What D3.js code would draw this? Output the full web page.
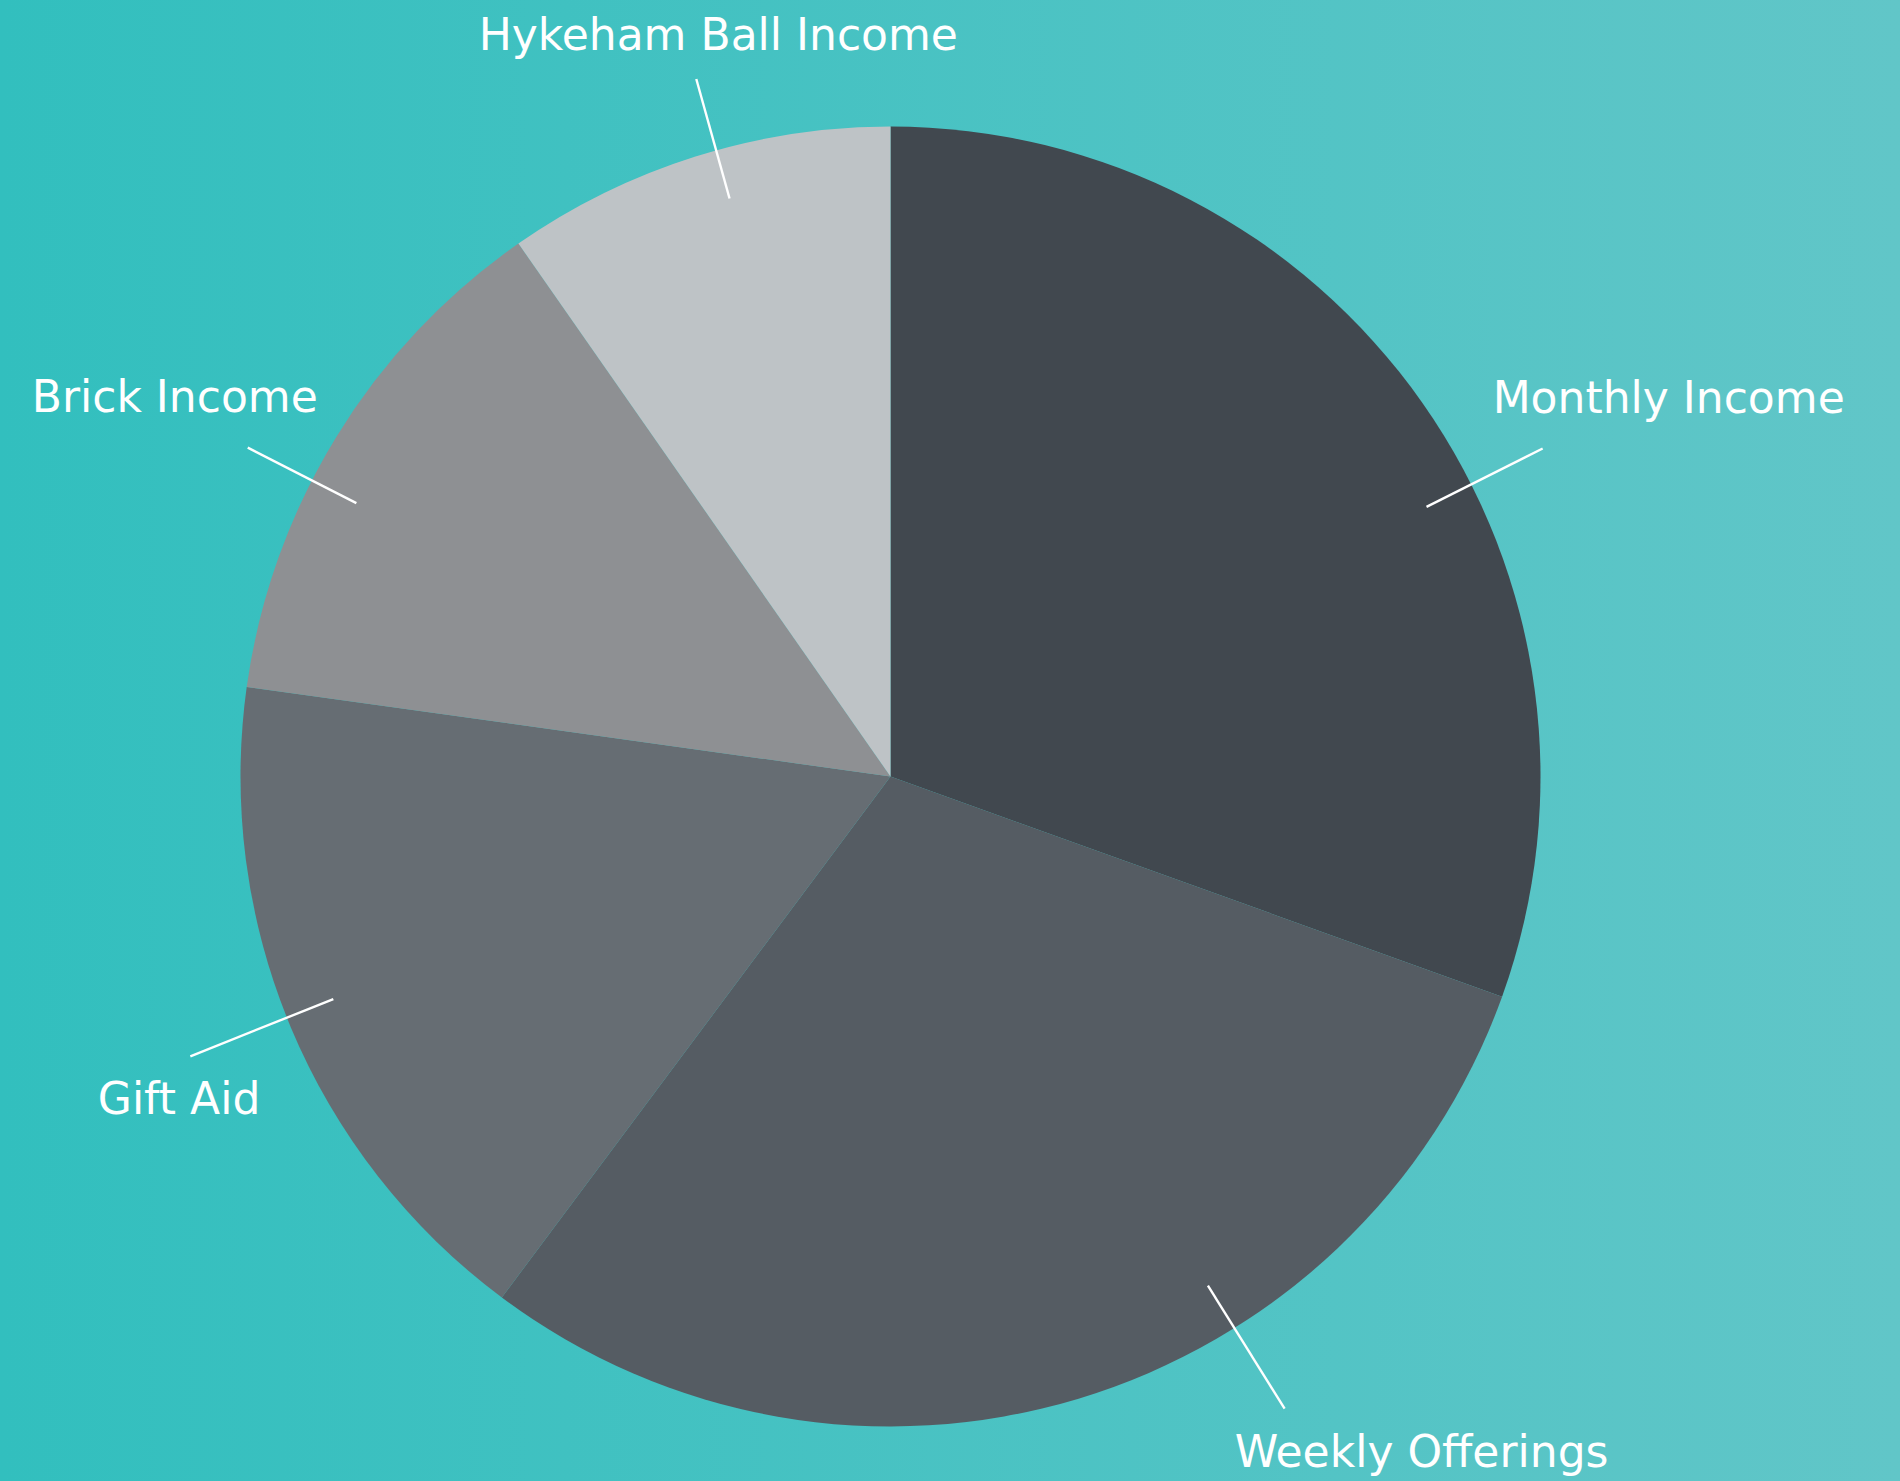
<!DOCTYPE html>
<html>
<head>
<meta charset="utf-8">
<script src="https://cdn.jsdelivr.net/npm/d3@7"></script>
<style>
  html, body { margin: 0; padding: 0; }
  svg { display: block; }
  .label { font-family: "DejaVu Sans", sans-serif; fill: #fff; }
</style>
</head>
<body>
<svg id="chart" width="1900" height="1481"></svg>
<script>
// income sources, clockwise from 12 o'clock (share of total, %)
let categories = ['Monthly Income', 'Weekly Offerings', 'Gift Aid', 'Brick Income', 'Hykeham Ball Income'];
let shares = [30.5, 29.7, 17.0, 13.1, 9.7];
let colours = ['#41484f', '#555c63', '#666d73', '#8e9093', '#bec3c6'];

// the leader lines in the original are hand placed, not on the slice middles:
// turn away from the middle (degrees) and how far out they reach (px)
let leaderTurn = [8.4, -15.2, 0.9, -4.4, 1.9];
let leaderReach = [730, 745, 754, 722, 724];

let width = 1900,
    height = 1481,
    cx = 890.5,
    cy = 776.5,
    radius = 650;

let svg = d3.select('#chart');

let grad = svg.append('defs').append('linearGradient')
    .attr('id', 'bg')
    .attr('x1', '0%').attr('x2', '100%')
    .attr('y1', '0%').attr('y2', '0%');
grad.append('stop').attr('offset', '0%').attr('stop-color', '#32bfbe');
grad.append('stop').attr('offset', '100%').attr('stop-color', '#61c6c8');

svg.append('rect')
    .attr('width', width)
    .attr('height', height)
    .attr('fill', 'url(#bg)');

let data = categories.map((name, i) => ({
    name: name, value: shares[i], colour: colours[i],
    turn: leaderTurn[i], reach: leaderReach[i]
}));

let pie = d3.pie().sort(null).value(d => d.value);
let arc = d3.arc().innerRadius(0).outerRadius(radius);
let arcs = pie(data);

let g = svg.append('g').attr('transform', `translate(${cx},${cy})`);

g.selectAll('path.slice')
    .data(arcs)
    .enter().append('path')
    .attr('class', 'slice')
    .attr('d', arc)
    .attr('fill', d => d.data.colour);

let deg = Math.PI / 180;
let polar = (a, r) => [r * Math.sin(a), -r * Math.cos(a)];
let leaderAngle = d => (d.startAngle + d.endAngle) / 2 + d.data.turn * deg;

g.selectAll('line.leader')
    .data(arcs)
    .enter().append('line')
    .attr('class', 'leader')
    .attr('x1', d => polar(leaderAngle(d), 600)[0])
    .attr('y1', d => polar(leaderAngle(d), 600)[1])
    .attr('x2', d => polar(leaderAngle(d), d.data.reach)[0])
    .attr('y2', d => polar(leaderAngle(d), d.data.reach)[1])
    .attr('stroke', '#fff')
    .attr('stroke-width', 2.4);

g.selectAll('text.label')
    .data(arcs)
    .enter().append('text')
    .attr('class', 'label')
    .attr('font-size', 44)
    .each(function (d) {
        let a = leaderAngle(d);
        let p = polar(a, d.data.reach);
        let s = Math.sin(a);
        let anchor = 'middle', x = p[0] + 22, y = p[1] - 29;
        if (s > 0.5) { anchor = 'start'; x = p[0] - 50; }
        if (s < -0.5) { anchor = 'end'; x = p[0] + 70; }
        if (Math.abs(s) > 0.5) y = p[1] < 0 ? p[1] - 36 : p[1] + 58;
        d3.select(this)
            .attr('x', x)
            .attr('y', y)
            .attr('text-anchor', anchor)
            .text(d.data.name);
    });
</script>
</body>
</html>
